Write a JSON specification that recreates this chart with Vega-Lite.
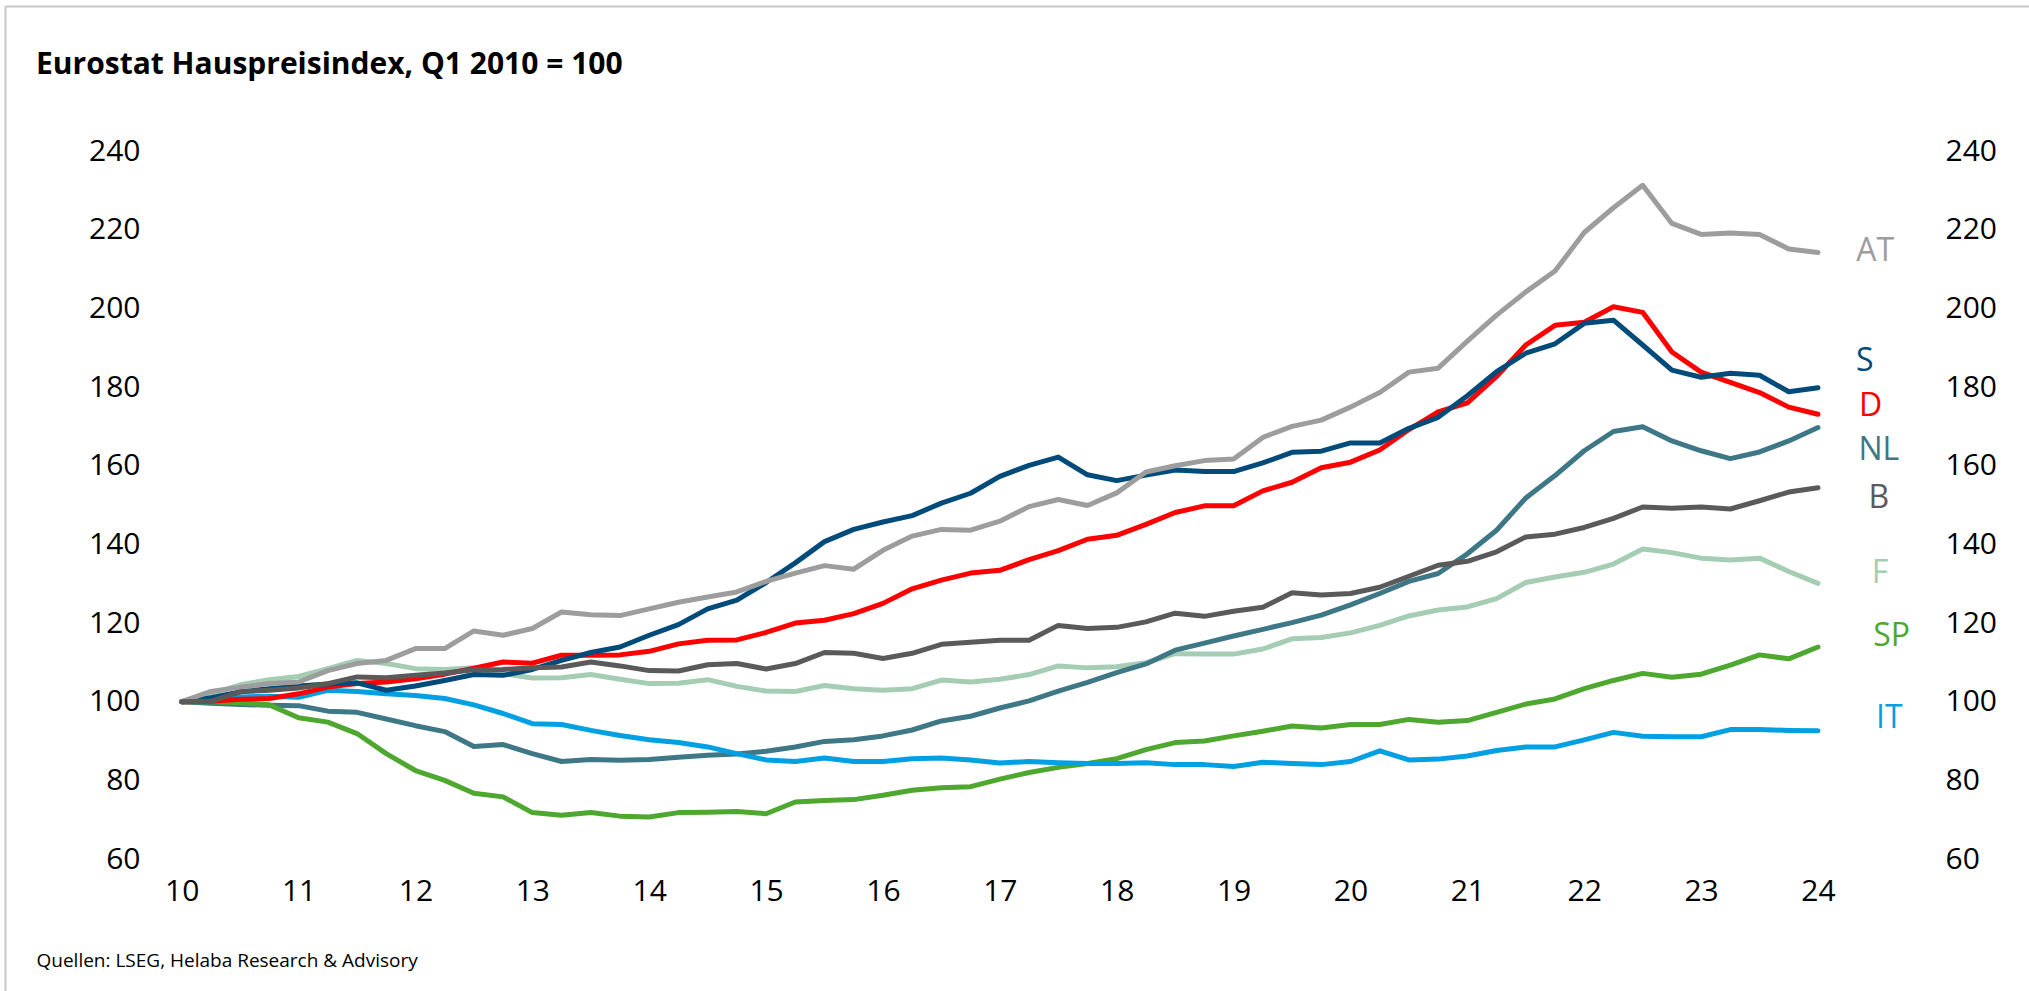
{
  "$schema": "https://vega.github.io/schema/vega-lite/v6.json",
  "width": 2024,
  "height": 985,
  "autosize": {"type": "none"},
  "padding": {"left": 5, "top": 6, "right": 0, "bottom": 0},
  "background": "white",
  "title": {
    "text": "Eurostat Hauspreisindex, Q1 2010 = 100",
    "anchor": "start", "frame": "group", "orient": "top", "offset": 0,
    "baseline": "alphabetic", "dx": 31, "dy": 98,
    "font": "Open Sans", "fontSize": 30, "fontWeight": "bold", "color": "#000000"
  },
  "config": {"view": {"stroke": null}},
  "datasets": {
    "series": [
      {"t": 10, "AT": 100, "S": 100, "D": 100, "NL": 100, "B": 100, "F": 100, "SP": 100, "IT": 100},
      {"t": 10.25, "AT": 102.6, "S": 101.0, "D": 100.1, "NL": 99.6, "B": 100.1, "F": 102.0, "SP": 100.0, "IT": 100.3},
      {"t": 10.5, "AT": 103.7, "S": 102.5, "D": 100.6, "NL": 99.3, "B": 102.5, "F": 104.3, "SP": 99.7, "IT": 101.2},
      {"t": 10.75, "AT": 104.6, "S": 103.3, "D": 100.8, "NL": 99.1, "B": 102.9, "F": 105.6, "SP": 99.2, "IT": 101.4},
      {"t": 11, "AT": 105.0, "S": 104.0, "D": 102.0, "NL": 99.0, "B": 103.5, "F": 106.4, "SP": 95.9, "IT": 101.1},
      {"t": 11.25, "AT": 107.9, "S": 104.5, "D": 103.7, "NL": 97.6, "B": 104.6, "F": 108.4, "SP": 94.8, "IT": 102.9},
      {"t": 11.5, "AT": 109.7, "S": 104.8, "D": 104.6, "NL": 97.3, "B": 106.3, "F": 110.5, "SP": 91.9, "IT": 102.6},
      {"t": 11.75, "AT": 110.5, "S": 102.9, "D": 105.0, "NL": 95.6, "B": 106.1, "F": 109.7, "SP": 86.8, "IT": 102.0},
      {"t": 12, "AT": 113.5, "S": 104.0, "D": 105.8, "NL": 93.9, "B": 106.7, "F": 108.4, "SP": 82.5, "IT": 101.6},
      {"t": 12.25, "AT": 113.5, "S": 105.4, "D": 107.0, "NL": 92.4, "B": 107.3, "F": 108.2, "SP": 80.0, "IT": 100.8},
      {"t": 12.5, "AT": 118.0, "S": 106.9, "D": 108.5, "NL": 88.6, "B": 108.1, "F": 108.6, "SP": 76.7, "IT": 99.2},
      {"t": 12.75, "AT": 116.9, "S": 106.7, "D": 110.1, "NL": 89.1, "B": 108.2, "F": 107.1, "SP": 75.8, "IT": 97.0},
      {"t": 13, "AT": 118.6, "S": 108.2, "D": 109.8, "NL": 86.8, "B": 108.6, "F": 106.0, "SP": 71.8, "IT": 94.4},
      {"t": 13.25, "AT": 122.8, "S": 110.5, "D": 111.8, "NL": 84.8, "B": 108.8, "F": 106.1, "SP": 71.1, "IT": 94.2},
      {"t": 13.5, "AT": 122.1, "S": 112.5, "D": 111.8, "NL": 85.3, "B": 110.1, "F": 106.9, "SP": 71.8, "IT": 92.7},
      {"t": 13.75, "AT": 121.9, "S": 113.9, "D": 111.9, "NL": 85.1, "B": 109.1, "F": 105.7, "SP": 70.9, "IT": 91.4},
      {"t": 14, "AT": 123.6, "S": 116.9, "D": 112.8, "NL": 85.3, "B": 107.9, "F": 104.6, "SP": 70.7, "IT": 90.3},
      {"t": 14.25, "AT": 125.3, "S": 119.6, "D": 114.7, "NL": 85.9, "B": 107.8, "F": 104.7, "SP": 71.8, "IT": 89.6},
      {"t": 14.5, "AT": 126.6, "S": 123.6, "D": 115.6, "NL": 86.4, "B": 109.4, "F": 105.6, "SP": 71.9, "IT": 88.5},
      {"t": 14.75, "AT": 127.9, "S": 125.8, "D": 115.7, "NL": 86.7, "B": 109.7, "F": 103.9, "SP": 72.1, "IT": 86.8},
      {"t": 15, "AT": 130.6, "S": 130.3, "D": 117.6, "NL": 87.4, "B": 108.3, "F": 102.7, "SP": 71.5, "IT": 85.2},
      {"t": 15.25, "AT": 132.7, "S": 135.3, "D": 120.0, "NL": 88.5, "B": 109.7, "F": 102.6, "SP": 74.5, "IT": 84.8},
      {"t": 15.5, "AT": 134.6, "S": 140.7, "D": 120.7, "NL": 89.9, "B": 112.5, "F": 104.1, "SP": 74.9, "IT": 85.7},
      {"t": 15.75, "AT": 133.7, "S": 143.8, "D": 122.4, "NL": 90.3, "B": 112.3, "F": 103.3, "SP": 75.1, "IT": 84.8},
      {"t": 16, "AT": 138.5, "S": 145.7, "D": 125.0, "NL": 91.3, "B": 111.0, "F": 102.9, "SP": 76.2, "IT": 84.8},
      {"t": 16.25, "AT": 142.1, "S": 147.3, "D": 128.7, "NL": 92.8, "B": 112.3, "F": 103.3, "SP": 77.5, "IT": 85.5},
      {"t": 16.5, "AT": 143.8, "S": 150.5, "D": 130.9, "NL": 95.1, "B": 114.6, "F": 105.5, "SP": 78.1, "IT": 85.7},
      {"t": 16.75, "AT": 143.6, "S": 153.0, "D": 132.7, "NL": 96.3, "B": 115.1, "F": 105.0, "SP": 78.4, "IT": 85.2},
      {"t": 17, "AT": 145.9, "S": 157.3, "D": 133.4, "NL": 98.4, "B": 115.6, "F": 105.7, "SP": 80.3, "IT": 84.4},
      {"t": 17.25, "AT": 149.6, "S": 160.1, "D": 136.1, "NL": 100.2, "B": 115.6, "F": 106.9, "SP": 82.0, "IT": 84.8},
      {"t": 17.5, "AT": 151.4, "S": 162.2, "D": 138.4, "NL": 102.7, "B": 119.4, "F": 109.1, "SP": 83.3, "IT": 84.5},
      {"t": 17.75, "AT": 149.9, "S": 157.7, "D": 141.3, "NL": 104.9, "B": 118.6, "F": 108.6, "SP": 84.3, "IT": 84.3},
      {"t": 18, "AT": 153.1, "S": 156.2, "D": 142.3, "NL": 107.4, "B": 118.9, "F": 108.9, "SP": 85.5, "IT": 84.3},
      {"t": 18.25, "AT": 158.4, "S": 157.6, "D": 145.1, "NL": 109.6, "B": 120.3, "F": 109.9, "SP": 87.8, "IT": 84.5},
      {"t": 18.5, "AT": 160.0, "S": 158.9, "D": 148.1, "NL": 113.1, "B": 122.5, "F": 112.2, "SP": 89.6, "IT": 84.0},
      {"t": 18.75, "AT": 161.3, "S": 158.5, "D": 149.8, "NL": 114.9, "B": 121.7, "F": 112.1, "SP": 90.0, "IT": 84.0},
      {"t": 19, "AT": 161.7, "S": 158.5, "D": 149.8, "NL": 116.7, "B": 123.0, "F": 112.1, "SP": 91.3, "IT": 83.5},
      {"t": 19.25, "AT": 167.2, "S": 160.7, "D": 153.6, "NL": 118.4, "B": 124.0, "F": 113.4, "SP": 92.5, "IT": 84.6},
      {"t": 19.5, "AT": 170.0, "S": 163.4, "D": 155.8, "NL": 120.1, "B": 127.7, "F": 116.0, "SP": 93.8, "IT": 84.3},
      {"t": 19.75, "AT": 171.6, "S": 163.7, "D": 159.5, "NL": 122.0, "B": 127.1, "F": 116.3, "SP": 93.3, "IT": 84.0},
      {"t": 20, "AT": 174.9, "S": 165.8, "D": 160.9, "NL": 124.6, "B": 127.5, "F": 117.5, "SP": 94.2, "IT": 84.8},
      {"t": 20.25, "AT": 178.6, "S": 165.8, "D": 164.0, "NL": 127.5, "B": 129.1, "F": 119.4, "SP": 94.2, "IT": 87.5},
      {"t": 20.5, "AT": 183.8, "S": 169.5, "D": 169.2, "NL": 130.6, "B": 131.9, "F": 121.8, "SP": 95.5, "IT": 85.2},
      {"t": 20.75, "AT": 184.8, "S": 172.3, "D": 173.7, "NL": 132.6, "B": 134.7, "F": 123.3, "SP": 94.8, "IT": 85.4},
      {"t": 21, "AT": 191.7, "S": 177.8, "D": 176.0, "NL": 137.6, "B": 135.7, "F": 124.1, "SP": 95.2, "IT": 86.2},
      {"t": 21.25, "AT": 198.3, "S": 183.9, "D": 182.7, "NL": 143.6, "B": 138.1, "F": 126.2, "SP": 97.3, "IT": 87.6},
      {"t": 21.5, "AT": 204.2, "S": 188.6, "D": 190.7, "NL": 151.8, "B": 141.9, "F": 130.3, "SP": 99.4, "IT": 88.5},
      {"t": 21.75, "AT": 209.5, "S": 191.0, "D": 195.7, "NL": 157.5, "B": 142.6, "F": 131.7, "SP": 100.7, "IT": 88.5},
      {"t": 22, "AT": 219.3, "S": 196.2, "D": 196.5, "NL": 163.8, "B": 144.3, "F": 132.9, "SP": 103.3, "IT": 90.3},
      {"t": 22.25, "AT": 225.6, "S": 197.0, "D": 200.4, "NL": 168.7, "B": 146.6, "F": 135.0, "SP": 105.4, "IT": 92.2},
      {"t": 22.5, "AT": 231.3, "S": 190.7, "D": 199.0, "NL": 169.9, "B": 149.5, "F": 138.8, "SP": 107.2, "IT": 91.2},
      {"t": 22.75, "AT": 221.6, "S": 184.3, "D": 188.9, "NL": 166.3, "B": 149.2, "F": 137.9, "SP": 106.2, "IT": 91.1},
      {"t": 23, "AT": 218.8, "S": 182.5, "D": 183.8, "NL": 163.8, "B": 149.5, "F": 136.5, "SP": 107.0, "IT": 91.1},
      {"t": 23.25, "AT": 219.2, "S": 183.5, "D": 181.2, "NL": 161.8, "B": 149.0, "F": 136.0, "SP": 109.3, "IT": 92.9},
      {"t": 23.5, "AT": 218.8, "S": 183.0, "D": 178.6, "NL": 163.5, "B": 151.1, "F": 136.5, "SP": 111.9, "IT": 92.9},
      {"t": 23.75, "AT": 215.1, "S": 178.8, "D": 174.9, "NL": 166.3, "B": 153.3, "F": 133.1, "SP": 110.9, "IT": 92.7},
      {"t": 24, "AT": 214.2, "S": 179.8, "D": 173.1, "NL": 169.7, "B": 154.4, "F": 130.1, "SP": 113.9, "IT": 92.6}
    ],
    "labels": [
      {"k": "AT", "lx": 24.49, "ly": 214.7},
      {"k": "S", "lx": 24.40, "ly": 186.7},
      {"k": "D", "lx": 24.45, "ly": 175.2},
      {"k": "NL", "lx": 24.52, "ly": 164.0},
      {"k": "B", "lx": 24.52, "ly": 151.8},
      {"k": "F", "lx": 24.53, "ly": 132.7},
      {"k": "SP", "lx": 24.63, "ly": 116.6},
      {"k": "IT", "lx": 24.61, "ly": 95.9}
    ]
  },
  "layer": [
    {
      "data": {"name": "series"},
      "transform": [{"fold": ["F", "NL", "SP", "IT", "D", "S", "AT", "B"], "as": ["k", "v"]}],
      "mark": {"type": "line", "strokeWidth": 5, "strokeCap": "round", "strokeJoin": "round"},
      "encoding": {
        "x": {
          "field": "t", "type": "quantitative",
          "scale": {"domain": [8.4882, 25.8053], "nice": false, "zero": false},
          "axis": {
            "orient": "bottom", "values": [10, 11, 12, 13, 14, 15, 16, 17, 18, 19, 20, 21, 22, 23, 24],
            "format": "d", "domain": false, "ticks": false, "tickSize": 0, "grid": false,
            "labelPadding": -100, "labelBaseline": "middle", "labelFlush": false, "labelOverlap": false,
            "labelFont": "Open Sans", "labelFontSize": 30, "labelColor": "#000000",
            "title": "Quellen: LSEG, Helaba Research & Advisory",
            "titleFont": "Open Sans", "titleFontSize": 19, "titleFontWeight": "normal", "titleColor": "#000000",
            "titleX": 31, "titleY": -31, "titleAlign": "left", "titleAnchor": null, "titleBaseline": "middle"
          }
        },
        "y": {
          "field": "v", "type": "quantitative",
          "scale": {"domain": [26.44, 276.89], "nice": false, "zero": false},
          "axis": {
            "orient": "left", "values": [60, 80, 100, 120, 140, 160, 180, 200, 220, 240],
            "format": "d", "domain": true, "domainColor": "#c8c8c8", "domainWidth": 2,
            "ticks": false, "tickSize": 0, "grid": false,
            "labelPadding": -135, "labelAlign": "right", "labelBaseline": "middle",
            "labelFont": "Open Sans", "labelFontSize": 30, "labelColor": "#000000", "title": null
          }
        },
        "color": {
          "field": "k", "type": "nominal",
          "scale": {
            "domain": ["AT", "S", "D", "NL", "B", "F", "SP", "IT"],
            "range": ["#9d9d9d", "#004b7a", "#ff0000", "#3e7786", "#5a5a5a", "#a4cdb4", "#4ea72e", "#00a0e3"]
          },
          "legend": null
        }
      }
    },
    {
      "data": {"name": "labels"},
      "mark": {"type": "text", "align": "center", "baseline": "middle", "font": "Open Sans", "fontSize": 32},
      "encoding": {
        "x": {
          "field": "lx", "type": "quantitative",
          "scale": {"domain": [8.4882, 25.8053], "nice": false, "zero": false},
          "axis": {"orient": "top", "domain": true, "domainColor": "#c8c8c8", "domainWidth": 2, "ticks": false, "labels": false, "grid": false, "title": null}
        },
        "y": {
          "field": "ly", "type": "quantitative",
          "scale": {"domain": [26.44, 276.89], "nice": false, "zero": false},
          "axis": {
            "orient": "right", "values": [60, 80, 100, 120, 140, 160, 180, 200, 220, 240],
            "format": "d", "domain": false, "ticks": false, "tickSize": 0, "grid": false,
            "labelPadding": -84, "labelAlign": "left", "labelBaseline": "middle",
            "labelFont": "Open Sans", "labelFontSize": 30, "labelColor": "#000000", "title": null
          }
        },
        "text": {"field": "k"},
        "color": {"field": "k", "type": "nominal", "legend": null}
      }
    }
  ],
  "resolve": {"axis": {"x": "independent", "y": "independent"}}
}
